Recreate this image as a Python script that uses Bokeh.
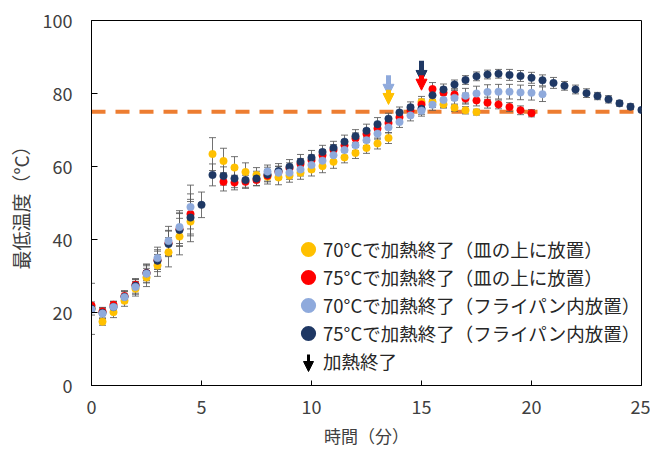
from bokeh.plotting import figure
from bokeh.models import (ColumnDataSource, Whisker, TeeHead, Span, Label, Arrow, NormalHead,
                          Legend, LegendItem, FixedTicker, Range1d)
from bokeh.embed import file_html
from bokeh.resources import INLINE

# ---------------- data ----------------
times = [0, 0.5, 1, 1.5, 2, 2.5, 3, 3.5, 4, 4.5,
         5, 5.5, 6, 6.5, 7, 7.5, 8, 8.5, 9, 9.5,
         10, 10.5, 11, 11.5, 12, 12.5, 13, 13.5, 14, 14.5,
         15, 15.5, 16, 16.5, 17, 17.5, 18, 18.5, 19, 19.5,
         20, 20.5, 21, 21.5, 22, 22.5, 23, 23.5, 24, 24.5, 25]

labels = ["70°Cで加熱終了（皿の上に放置）",
          "75°Cで加熱終了（皿の上に放置）",
          "70°Cで加熱終了（フライパン内放置）",
          "75°Cで加熱終了（フライパン内放置）"]
arrow_label = "加熱終了"

plate70 = [21.2, 17.5, 20.1, 23.2, 26.5, 29.6, 32.9, 36.5, 40.8, 44.9,
           None, 63.4, 61.5, 59.7, 58.5, 57.7, 57.2, 57.0, 57.5, 58.3,
           59.2, 60.1, 61.3, 62.5, 63.7, 65.1, 66.3, 67.8, None, None,
           77.7, 77.7, 77.0, 76.1, 75.4, 74.9]
plate70_err = [1.0, 1.0, 1.5, 1.5, 2.0, 2.5, 3.0, 4.0, 5.0, 5.5,
               None, 4.5, 3.5, 3.0, 2.5, 2.0, 2.0, 2.0, 1.8, 1.8,
               1.8, 1.8, 1.8, 1.5, 1.5, 1.5, 1.5, 1.5, None, None,
               1.5, 1.5, 1.0, 1.0, 1.0, 0.8]

plate75 = [21.9, 20.3, 22.1, 24.5, 27.6, 30.8, 34.3, 39.0, 42.8, 47.0,
           None, None, 55.8, 55.6, 55.8, 56.3, 57.5, 58.5, 59.5, 60.7,
           61.7, 63.1, 64.5, 65.8, 67.7, 68.9, 70.4, 71.9, 73.5, 75.3,
           77.0, 81.2, 80.2, 79.7, 78.6, 78.1, 77.5, 77.0, 76.3, 75.4,
           74.6]
plate75_err = [1.0, 1.0, 1.0, 1.5, 1.5, 2.0, 2.5, 3.5, 4.5, 5.5,
               None, None, 2.5, 2.0, 1.8, 1.5, 1.5, 1.5, 1.5, 1.5,
               1.5, 1.5, 1.5, 1.5, 1.5, 1.5, 1.5, 1.5, 1.5, 1.5,
               1.5, 1.8, 1.5, 1.5, 1.5, 1.5, 1.5, 1.2, 1.2, 1.2,
               1.0]

pan70 = [20.8, 19.7, 21.5, 24.2, 27.0, 30.6, 34.9, 39.6, 43.4, 48.9,
         None, None, None, None, None, None, 58.6, 58.3, 58.3, 59.2,
         60.4, 61.6, 63.1, 64.5, 65.8, 67.2, 69.0, 70.7, 72.2, 74.0,
         75.3, 76.9, 78.2, 78.8, 79.4, 80.0, 80.4, 80.5, 80.5, 80.3,
         80.2, 79.8]
pan70_err = [1.5, 1.5, 1.5, 1.5, 2.0, 2.5, 3.0, 4.0, 4.5, 6.0,
             None, None, None, None, None, None, 1.8, 1.8, 1.8, 1.8,
             1.8, 1.8, 1.8, 1.5, 1.5, 1.5, 1.5, 1.5, 1.5, 1.5,
             1.5, 1.5, 2.0, 2.0, 2.0, 2.0, 2.0, 2.0, 2.0, 2.0,
             2.0, 2.0]

pan75 = [21.0, 19.9, 21.5, 24.3, 27.3, 30.8, 34.2, 38.8, 42.6, 46.0,
         49.5, 57.7, 57.4, 56.7, 56.3, 56.7, 57.8, 58.8, 59.9, 61.3,
         62.4, 64.0, 65.1, 66.8, 68.3, 69.8, 71.6, 73.1, 74.8, 76.2,
         75.8, 79.5, 81.1, 82.5, 83.7, 84.7, 85.2, 85.4, 85.1, 84.8,
         84.3, 83.6, 82.9, 82.1, 81.1, 80.1, 79.3, 78.4, 77.3, 76.4,
         75.5]
pan75_err = [7.0, 1.5, 1.5, 1.5, 2.0, 2.5, 3.0, 3.5, 4.5, 5.0,
             3.5, 3.0, 2.5, 2.5, 2.0, 2.0, 2.0, 2.0, 2.0, 2.0,
             2.0, 1.8, 1.8, 1.8, 1.8, 1.8, 1.8, 1.5, 1.5, 1.5,
             1.5, 1.5, 1.5, 1.2, 1.2, 1.2, 1.2, 1.2, 1.5, 1.5,
             1.5, 1.5, 1.5, 1.2, 1.2, 1.2, 1.0, 1.0, 0.8, 0.8,
             0.5]

threshold = 75
x_ticks = [0, 5, 10, 15, 20, 25]
y_ticks = [0, 20, 40, 60, 80, 100]

# heating-end arrows (time, top, tip) per series
arrow_time = [13.5, 13.5, 15, 15]
arrow_top = [85.0, 81.0, 89.0, 85.0]
arrow_tip = [79.5, 77.0, 83.3, 80.9]
arrow_series = [2, 0, 3, 1]

colors = ["#FFC000", "#FF0000", "#8FAADC", "#1F3864"]
FONT = "Noto Sans CJK JP"

# ---------------- figure ----------------
p = figure(width=650, height=450, output_backend="svg", toolbar_location=None,
           x_range=Range1d(0, 25), y_range=Range1d(0, 100),
           min_border_left=91, min_border_right=9, min_border_top=20, min_border_bottom=64)
p.background_fill_color = "white"
p.border_fill_color = "white"
p.outline_line_color = "black"
p.outline_line_width = 1
p.grid.visible = False

p.xaxis.ticker = FixedTicker(ticks=x_ticks)
p.yaxis.ticker = FixedTicker(ticks=y_ticks)
for ax in (p.xaxis[0], p.yaxis[0]):
    ax.minor_tick_line_color = None
    ax.major_tick_out = 0
    ax.axis_line_color = "black"
    ax.major_tick_line_color = "black"
    ax.major_label_text_font = FONT
    ax.major_label_text_font_size = "18px"
    ax.major_label_text_color = "#404040"
    ax.axis_label_text_font = FONT
    ax.axis_label_text_font_style = "normal"
    ax.axis_label_text_color = "#404040"
p.xaxis.axis_label_text_font_size = "17px"
p.yaxis.axis_label_text_font_size = "19px"
p.xaxis.major_tick_in = 5
p.yaxis.major_tick_in = 6
p.yaxis.major_label_standoff = 19
p.xaxis.major_label_standoff = 14
p.xaxis.axis_label = "時間（分）"
p.yaxis.axis_label = "最低温度（°C）"
p.xaxis.axis_label_standoff = 6
p.yaxis.axis_label_standoff = 6

# threshold line
span = Span(location=threshold, dimension="width", line_color="#ED7D31",
            line_width=4, line_dash="14 10", level="underlay")
p.add_layout(span)
p.add_layout(Label(x=0, y=threshold, x_offset=-6, text=str(threshold), text_align="right",
                   text_baseline="middle", text_color="#ED7D31", text_font=FONT,
                   text_font_style="bold", text_font_size="19px"))

series = [(plate70, plate70_err), (plate75, plate75_err), (pan70, pan70_err), (pan75, pan75_err)]
sources = []
for vals, errs in series:
    t, v, lo, hi = [], [], [], []
    for ti, vi, ei in zip(times, vals, errs):
        if vi is None:
            continue
        t.append(ti)
        v.append(vi)
        lo.append(vi - ei)
        hi.append(vi + ei)
    sources.append(ColumnDataSource(dict(t=t, v=v, lower=lo, upper=hi)))

for src in sources:
    w = Whisker(base="t", upper="upper", lower="lower", source=src,
                line_color="#595959", line_width=1, line_alpha=0.85,
                upper_head=TeeHead(size=7, line_color="#595959", line_alpha=0.85),
                lower_head=TeeHead(size=7, line_color="#595959", line_alpha=0.85),
                level="underlay")
    p.add_layout(w)

for idx in [0, 1, 3, 2]:
    p.scatter(x="t", y="v", source=sources[idx], size=7.5,
              fill_color=colors[idx], line_color=colors[idx], line_width=0.5)

# heating end arrows
for at, top, tip, si in zip(arrow_time, arrow_top, arrow_tip, arrow_series):
    p.add_layout(Arrow(x_start=at, y_start=top, x_end=at, y_end=tip,
                       line_color=colors[si], line_width=5,
                       end=NormalHead(size=11, fill_color=colors[si], line_color=colors[si],
                                      line_width=1)))

# legend (legend-only glyphs: hidden copies with thicker outline -> bigger swatches)
legend_glyphs = []
for i, c in enumerate(colors):
    r = p.scatter(x="t", y="v", source=sources[i], size=10,
                  fill_color=c, line_color=c, line_width=4)
    r.visible = False
    legend_glyphs.append(r)
dummy = p.scatter(x="t", y="v", source=sources[0], size=1, fill_alpha=0, line_alpha=0)
dummy.visible = False
items = [LegendItem(label=labels[i], renderers=[legend_glyphs[i]]) for i in range(4)]
items.append(LegendItem(label=arrow_label, renderers=[dummy]))
legend = Legend(items=items, location=(203, 10), orientation="vertical",
                glyph_width=28, glyph_height=28, spacing=0, padding=0, margin=0,
                label_standoff=1, label_text_font=FONT, label_text_font_size="18.5px",
                label_height=28, inactive_fill_alpha=0, click_policy="none",
                label_text_color="#262626", border_line_alpha=0, background_fill_alpha=0)
p.add_layout(legend)
p.add_layout(Arrow(x_start=217, y_start=31, x_end=217, y_end=14,
                   start_units="screen", end_units="screen",
                   line_color="black", line_width=3,
                   end=NormalHead(size=10, fill_color="black", line_color="black")))

open("out.html", "w").write(file_html(p, INLINE))
